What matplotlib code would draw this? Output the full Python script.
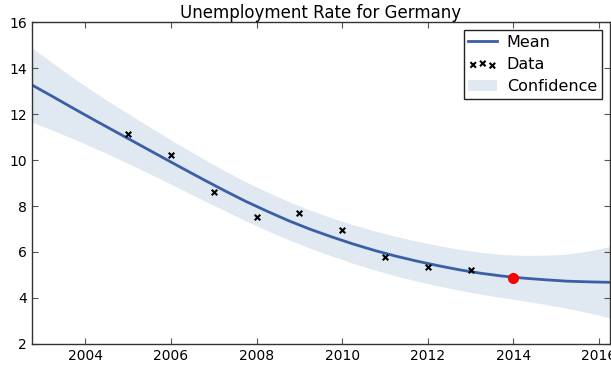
import matplotlib
matplotlib.use("Agg")
import numpy as np
import matplotlib.pyplot as plt

# observed unemployment rate (%)
data_years = [2005, 2006, 2007, 2008, 2009, 2010, 2011, 2012, 2013]
data_rate = [11.13, 10.22, 8.63, 7.53, 7.71, 6.94, 5.80, 5.36, 5.22]

# highlighted point
point_year = [2014]
point_rate = [4.87]

# fitted mean and confidence half-width on a half-year grid
grid_years = [2002.75, 2003.25, 2003.75, 2004.25, 2004.75, 2005.25, 2005.75,
              2006.25, 2006.75, 2007.25, 2007.75, 2008.25, 2008.75, 2009.25,
              2009.75, 2010.25, 2010.75, 2011.25, 2011.75, 2012.25, 2012.75,
              2013.25, 2013.75, 2014.25, 2014.75, 2015.25, 2015.75, 2016.25]
mean_rate = [13.27, 12.75, 12.22, 11.70, 11.19, 10.68, 10.17,
             9.66, 9.16, 8.67, 8.20, 7.77, 7.36, 6.99,
             6.66, 6.35, 6.07, 5.82, 5.60, 5.40, 5.22,
             5.07, 4.95, 4.86, 4.79, 4.73, 4.70, 4.68]
conf_half = [1.62, 1.46, 1.32, 1.21, 1.12, 1.05, 0.99,
             0.94, 0.90, 0.87, 0.85, 0.84, 0.83, 0.83,
             0.83, 0.84, 0.85, 0.86, 0.87, 0.88, 0.89,
             0.91, 0.94, 0.99, 1.07, 1.18, 1.34, 1.55]

x = np.array(grid_years)
m = np.array(mean_rate)
h = np.array(conf_half)

plt.rcParams['font.family'] = 'DejaVu Sans'
plt.rcParams['xtick.direction'] = 'in'
plt.rcParams['ytick.direction'] = 'in'

fig = plt.figure(figsize=(6.11, 3.69), dpi=100)
ax = fig.add_axes([0.052, 0.068, 0.946, 0.872])

ax.fill_between(x, m - h, m + h, color='#e0e8f2', linewidth=0, label='Confidence')
ax.plot(x, m, color='#3a5fa5', lw=2, label='Mean')
ax.scatter(data_years, data_rate, marker='x', color='black', s=16, linewidths=1.5,
           label='Data', zorder=3)
ax.plot(point_year, point_rate, 'o', color='red', markeredgecolor='red', markersize=7, zorder=4)

ax.set_xlim(2002.75, 2016.25)
ax.set_ylim(2, 16)
ax.set_xticks([2004, 2006, 2008, 2010, 2012, 2014, 2016])
ax.set_yticks([2, 4, 6, 8, 10, 12, 14, 16])
ax.tick_params(top=True, right=True, labelsize=10, length=4, width=0.8, color='#555555')
for s in ax.spines.values():
    s.set_color('#333333')
    s.set_linewidth(1.0)

ax.set_title("Unemployment Rate for Germany", fontsize=12, pad=3)

handles, labels = ax.get_legend_handles_labels()
order = [labels.index('Mean'), labels.index('Data'), labels.index('Confidence')]
leg = ax.legend([handles[i] for i in order], [labels[i] for i in order],
                loc='upper right', fontsize=11.5, scatterpoints=3,
                scatteryoffsets=[0.375, 0.5, 0.3125], fancybox=False,
                framealpha=1, edgecolor='#222222', borderaxespad=0.5,
                borderpad=0.3, handlelength=1.8, handletextpad=0.6,
                labelspacing=0.45)
leg.get_frame().set_linewidth(1.0)

fig.savefig("out.png", dpi=100)
